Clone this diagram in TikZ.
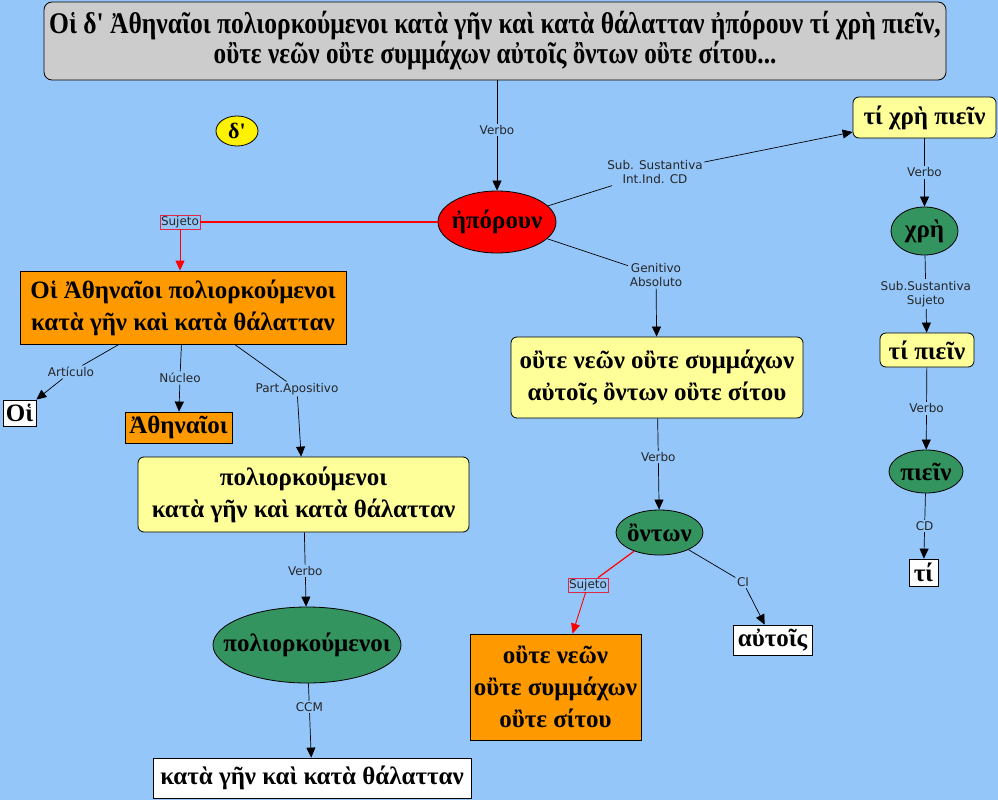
\documentclass[tikz,border=0pt]{standalone}
\usepackage{fontspec}
\setmainfont{Liberation Serif}
\newfontfamily\lblfont{DejaVu Sans}
\usetikzlibrary{arrows.meta,shapes.geometric}
\definecolor{bg}{RGB}{148,198,250}
\definecolor{topgray}{RGB}{204,204,204}
\definecolor{orng}{RGB}{255,153,0}
\definecolor{lyel}{RGB}{255,255,153}
\definecolor{grn}{RGB}{51,148,95}
\definecolor{sujred}{RGB}{225,40,70}
\newcommand{\zw}[1]{\makebox[0pt]{#1}}
\begin{document}
\begin{tikzpicture}[x=1pt,y=-1pt,
  gk/.style={font=\fontsize{25}{32}\selectfont\bfseries, align=center, inner sep=0pt, draw=black, line width=0.8pt, text=black},
  rbox/.style={gk, rectangle, rounded corners=6pt, fill=lyel},
  sbox/.style={gk, rectangle},
  ell/.style={gk, ellipse, fill=grn, inner ysep=-5pt},
  lbl/.style={font=\fontsize{12}{14.5}\lblfont, fill=bg, inner sep=1.5pt, align=center, text=black!85},
  sujlbl/.style={lbl, draw=sujred, line width=0.6pt, inner sep=1.2pt},
  con/.style={line width=0.7pt},
  arr/.style={con, -{Triangle[length=10pt,width=9pt]}},
  redcon/.style={line width=1.2pt, draw=red},
  redarr/.style={arr, line width=0.9pt, draw=red, -{Triangle[length=10pt,width=9pt,fill=red]}},
]
\fill[bg] (0,0) rectangle (998,800);
\useasboundingbox (0,0) rectangle (998,800);

% nodes
\node[gk, rectangle, rounded corners=8pt, fill=topgray, minimum width=902pt, minimum height=78pt, font=\fontsize{30}{30}\selectfont\bfseries] (top) at (495,41)
  {\scalebox{0.852}[1]{Οἱ δ\textquotesingle{} Ἀθηναῖοι πολιορκούμενοι κατὰ γῆν καὶ κατὰ θάλατταν ἠπόρουν τί χρὴ πιεῖν,}\\
   \scalebox{0.84}[1]{οὒτε νεῶν οὒτε συμμάχων αὐτοῖς ὂντων οὒτε σίτου...}};
\node[ell, fill=yellow, minimum width=42pt, minimum height=30pt, font=\fontsize{22}{24}\selectfont\bfseries] (de) at (237,131) {\zw{δ\textquotesingle}};
\node[ell, fill=red, minimum width=118pt, minimum height=62pt] (hp) at (497,222) {\zw{ἠπόρουν}};

\node[sbox, fill=orng, minimum width=326pt, minimum height=73pt] (o1) at (183,307.5) {Οἱ Ἀθηναῖοι πολιορκούμενοι\\ κατὰ γῆν καὶ κατὰ θάλατταν};
\node[sbox, fill=white, minimum width=33pt, minimum height=26pt] (oi) at (19.5,413) {Οἱ};
\node[sbox, fill=orng, minimum width=107pt, minimum height=31pt] (ath) at (178.5,427.5) {Ἀθηναῖοι};
\node[rbox, minimum width=331pt, minimum height=75pt] (yp) at (303.5,494.5) {πολιορκούμενοι\\ κατὰ γῆν καὶ κατὰ θάλατταν};
\node[ell, minimum width=188pt, minimum height=76pt] (gp) at (307,645) {\zw{πολιορκούμενοι}};
\node[sbox, fill=white, minimum width=318pt, minimum height=40pt] (wk) at (312,778) {κατὰ γῆν καὶ κατὰ θάλατταν};

\node[rbox, minimum width=143pt, minimum height=41pt] (tcp) at (924.5,117.5) {τί χρὴ πιεῖν};
\node[ell, minimum width=67pt, minimum height=48pt] (chr) at (924.5,231) {\zw{χρὴ}};
\node[rbox, minimum width=94pt, minimum height=34pt] (tp) at (927,350) {τί πιεῖν};
\node[ell, minimum width=74pt, minimum height=43pt] (pe) at (926,471.5) {\zw{πιεῖν}};
\node[sbox, fill=white, minimum width=29pt, minimum height=27pt] (ti) at (923.5,572.5) {τί};

\node[rbox, minimum width=292pt, minimum height=81pt] (yo) at (657,377.5) {οὒτε νεῶν οὒτε συμμάχων\\ αὐτοῖς ὂντων οὒτε σίτου};
\node[ell, minimum width=87pt, minimum height=45pt] (ont) at (659.5,532.5) {\zw{ὂντων}};
\node[sbox, fill=orng, minimum width=171pt, minimum height=106pt] (oo) at (555.5,687) {οὒτε νεῶν\\ οὒτε συμμάχων\\ οὒτε σίτου};
\node[sbox, fill=white, minimum width=79pt, minimum height=30pt] (au) at (772.5,640) {αὐτοῖς};

% label nodes for bent connectors
\node[sujlbl] (suj1) at (180,222) {Sujeto};
\node[lbl] (lart) at (71,372) {Artículo};
\node[lbl] (lnuc) at (180,378) {Núcleo};
\node[lbl] (lpart) at (297,389) {Part.Apositivo};
\node[lbl] (lsub) at (655,172) {Sub. Sustantiva\\ Int.Ind. CD};
\node[lbl] (lgen) at (656,275) {Genitivo\\ Absoluto};
\node[sujlbl] (suj2) at (588,585) {Sujeto};
\node[lbl] (lci) at (743,582) {CI};

% connectors
\draw[arr] (hp |- top.south) -- node[lbl, pos=0.45] {Verbo} (hp);
\draw[redcon] (hp) -- (suj1);
\draw[redarr] (suj1) -- (suj1 |- o1.north);
\draw[con] (o1) -- (lart);
\draw[arr] (lart) -- (oi);
\draw[con] (o1) -- (lnuc);
\draw[arr] (lnuc) -- (ath);
\draw[con] (o1) -- (lpart);
\draw[arr] (lpart) -- (yp);
\draw[arr] (yp) -- node[lbl, pos=0.52] {Verbo} (gp);
\draw[arr] (gp) -- node[lbl, pos=0.32] {CCM} (wk);

\draw[con] (hp) -- (lsub);
\draw[arr] (lsub) -- (tcp);
\draw[arr] (tcp) -- node[lbl] {Verbo} (chr);
\draw[arr] (chr) -- node[lbl, pos=0.5] {Sub.Sustantiva\\ Sujeto} (tp);
\draw[arr] (tp) -- node[lbl, pos=0.5] {Verbo} (pe);
\draw[arr] (pe) -- node[lbl, pos=0.5] {CD} (ti);

\draw[con] (hp) -- (lgen);
\draw[arr] (lgen) -- (yo);
\draw[arr] (yo) -- node[lbl, pos=0.42] {Verbo} (ont);
\draw[redcon] (ont) -- (suj2);
\draw[redarr] (suj2) -- (oo);
\draw[con] (ont) -- (lci);
\draw[arr] (lci) -- (au);
\end{tikzpicture}
\end{document}
